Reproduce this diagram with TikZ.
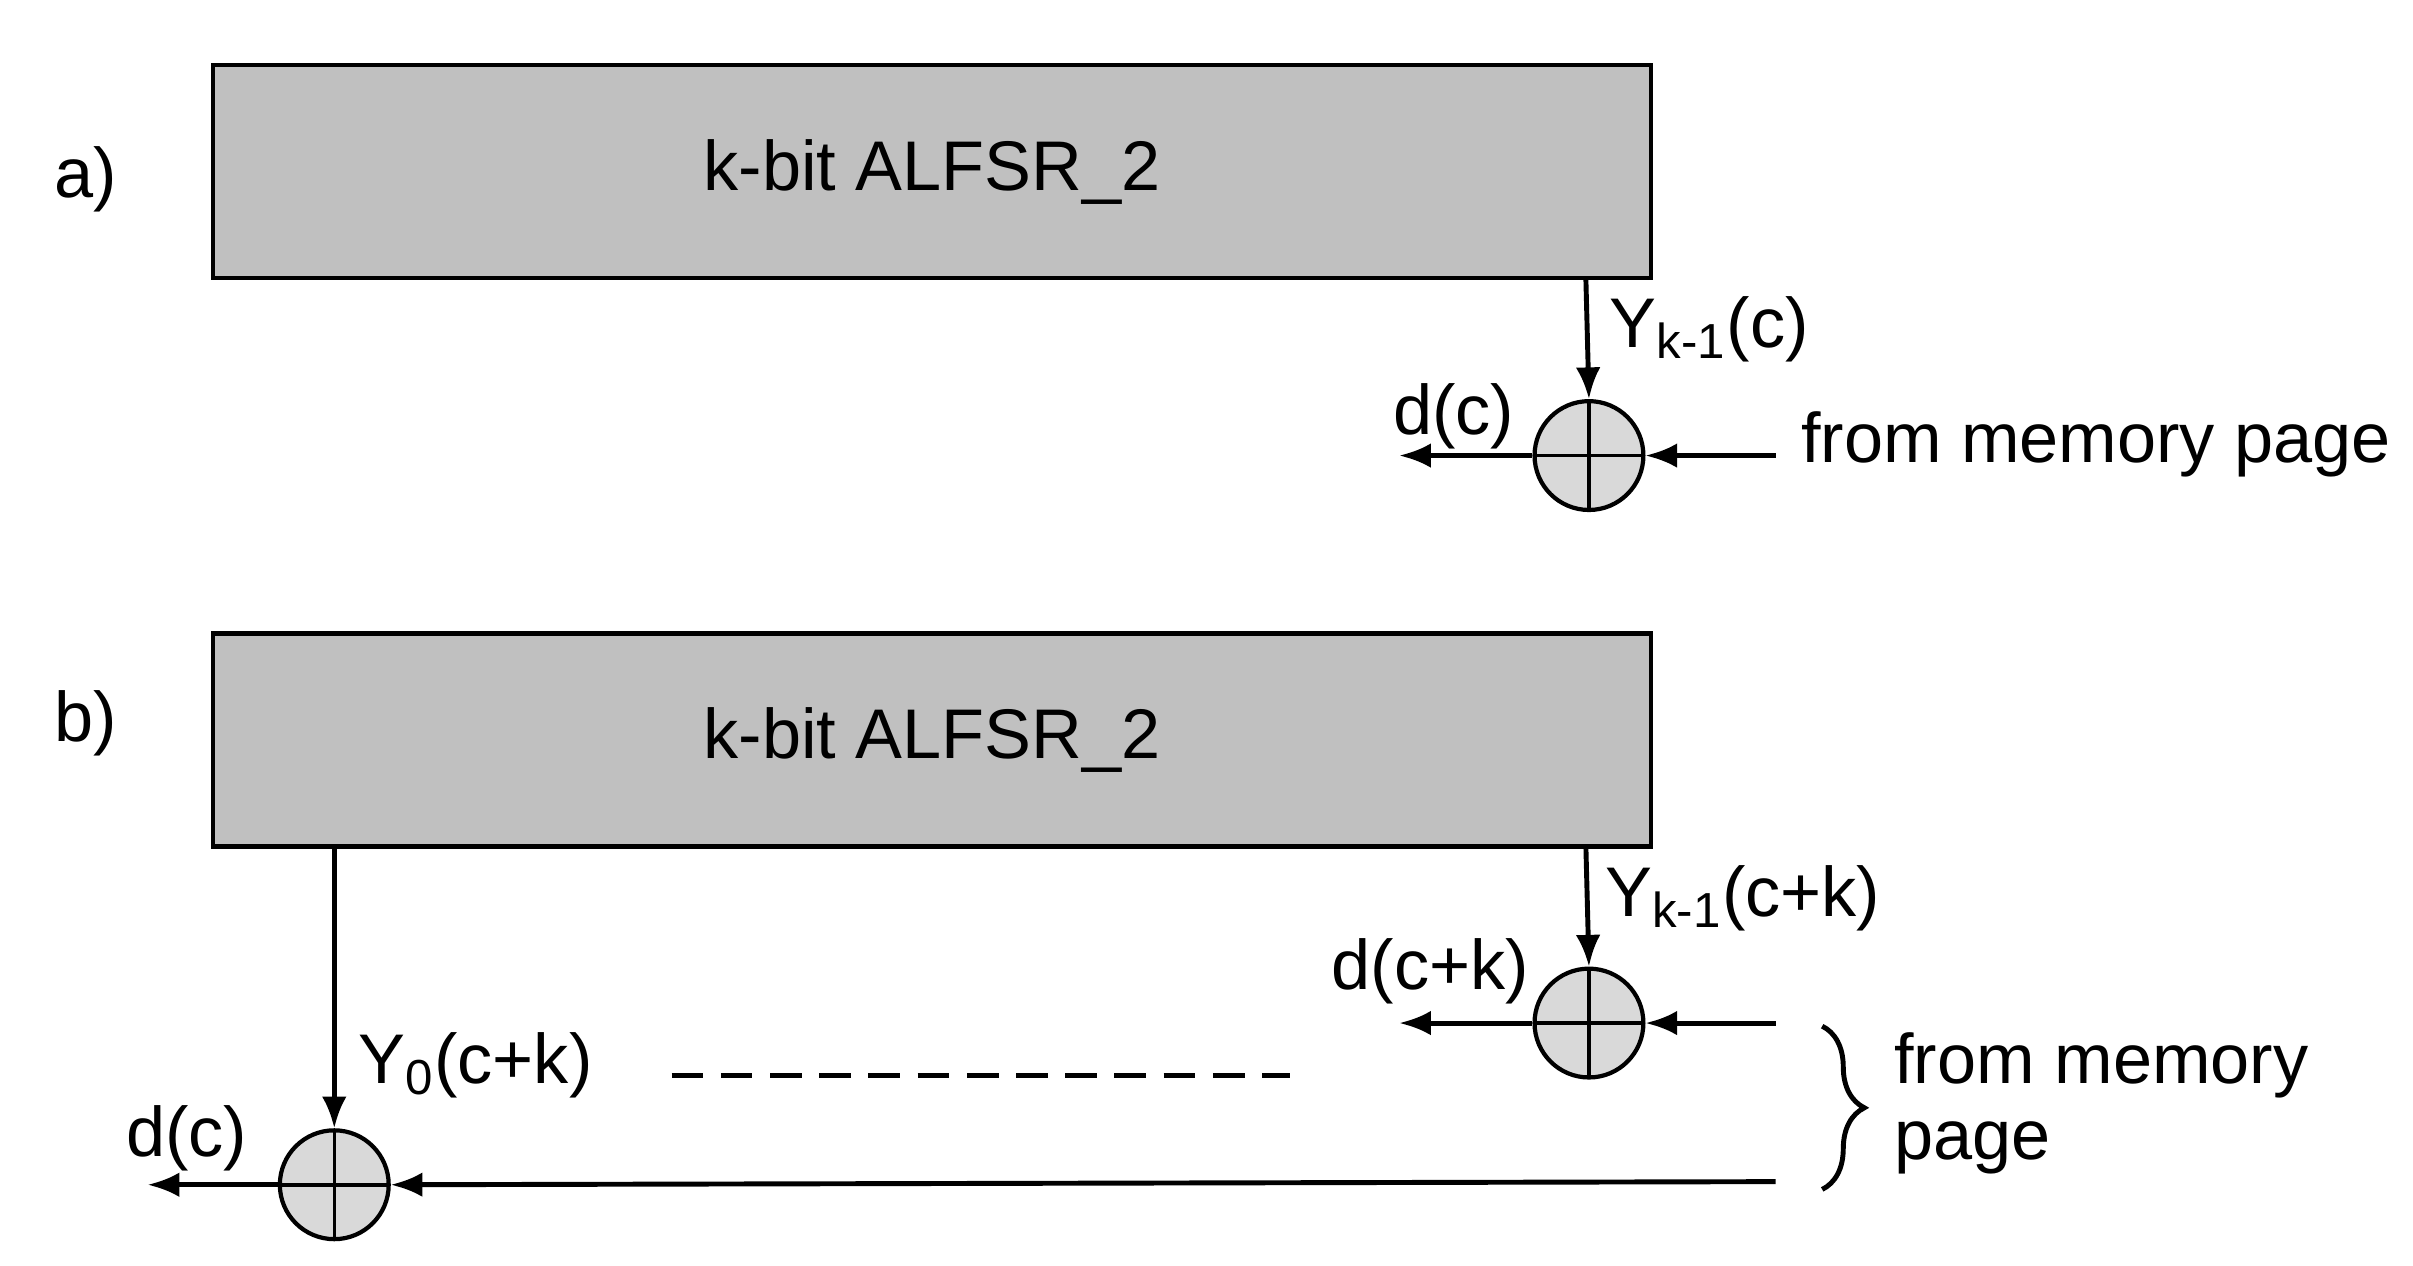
\documentclass[tikz,border=0pt]{standalone}
\usepackage{fontspec}
\setmainfont{Liberation Sans}
\usetikzlibrary{arrows.meta,decorations.pathreplacing}
\begin{document}
\begin{tikzpicture}[x=0.01555cm,y=-0.01555cm,
  box/.style={draw,line width=1.2pt,fill={rgb,255:red,192;green,192;blue,192},minimum width=925*0.01555cm,minimum height=137*0.01555cm,font=\fontsize{20}{24}\selectfont},
  xor/.style={circle,draw,line width=1.2pt,fill={rgb,255:red,217;green,217;blue,217},minimum size=70*0.01555cm,inner sep=0pt,
    path picture={\draw[line width=1pt] (path picture bounding box.north)--(path picture bounding box.south) (path picture bounding box.west)--(path picture bounding box.east);}},
  arr/.style={line width=1.4pt,-{Latex[length=9pt,width=7pt]}},
  lab/.style={font=\fontsize{20}{24}\selectfont,inner sep=0pt}]
\useasboundingbox (0,0) rectangle (1552,814);
% a)
\node[lab] (la) at (55,115) {a)};
\node[box] (A) at (599.5,110.5) {k-bit ALFSR\_2};
\node[xor] (xa) at (1022,293) {};
\coordinate (atop) at (1020,179);
\coordinate (aout) at (900,293);
\coordinate (ain) at (1142,293);
\draw[arr] (atop) -- (xa.north);
\draw[arr] (xa.west) -- (aout);
\draw[arr] (ain) -- (xa.east);
\node[lab,anchor=west] (ya) at (1035,212) {Y\textsubscript{k-1}(c)};
\node[lab] (da) at (935,268) {d(c)};
\node[lab,anchor=west] (ma) at (1158,286) {from memory page};
% b)
\node[lab] (lb) at (55,465) {b)};
\node[box] (B) at (599.5,476) {k-bit ALFSR\_2};
\node[xor] (xb) at (1022,658) {};
\node[xor] (xc) at (215,762) {};
\coordinate (btop) at (1020,544);
\coordinate (bout) at (900,658);
\coordinate (bin) at (1142,658);
\coordinate (ctop) at (215,544);
\coordinate (cout) at (95,762);
\coordinate (cin) at (1142,760);
\draw[arr] (btop) -- (xb.north);
\draw[arr] (xb.west) -- (bout);
\draw[arr] (bin) -- (xb.east);
\draw[arr] (ctop) -- (xc.north);
\draw[arr] (xc.west) -- (cout);
\draw[arr] (cin) -- (xc.east);
\node[lab,anchor=west] (yb) at (1032,578) {Y\textsubscript{k-1}(c+k)};
\node[lab] (db) at (920,625) {d(c+k)};
\node[lab,anchor=west] (yc) at (230,685) {Y\textsubscript{0}(c+k)};
\node[lab] (dc) at (120,732) {d(c)};
\coordinate (d1) at (432,692);
\coordinate (d2) at (830,692);
\draw[line width=1.4pt,dash pattern=on 9pt off 5pt] (d1) -- (d2);
\coordinate (br1) at (1172,660);
\coordinate (br2) at (1172,765);
\draw[line width=1.4pt,decorate,decoration={brace,amplitude=12pt}] (br1) -- (br2);
\node[lab,anchor=west] (mb1) at (1218,685) {from memory};
\node[lab,anchor=west] (mb2) at (1218,738) {page};
\end{tikzpicture}
\end{document}
